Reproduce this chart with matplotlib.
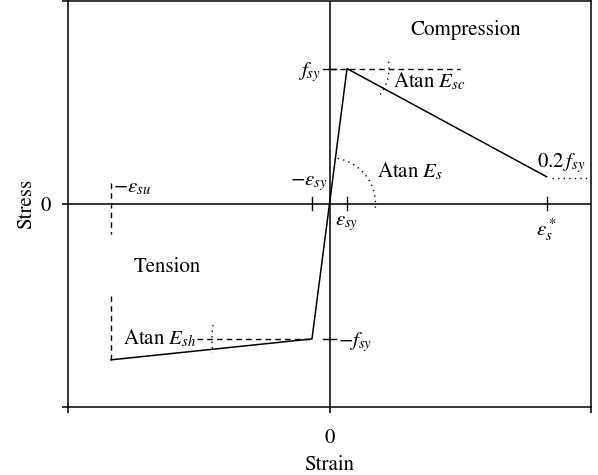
import numpy as np
import matplotlib
matplotlib.use("Agg")
import matplotlib.pyplot as plt

plt.rcParams['font.family'] = ['STIXGeneral', 'DejaVu Serif']
plt.rcParams['mathtext.fontset'] = 'stix'

# ---- data (normalised strain / stress) ----
eps_sy = 0.067
eps_su = 0.836
eps_star = 0.83
f_sy = 0.665
f_su_t = -0.768          # stress at -eps_su
f_res = 0.133            # 0.2 f_sy
curve_x = [-eps_su, -eps_sy, eps_sy, eps_star]
curve_y = [f_su_t, -f_sy, f_sy, f_res]

W, H = 598, 475
fig = plt.figure(figsize=(W / 100, H / 100), dpi=100)
ax = fig.add_axes([68 / W, (475 - 407) / H, (591 - 68) / W, 406.5 / H])
ax.set_xlim(-1, 1)
ax.set_ylim(-1, 1)

# pixel per data unit
px_x = (591 - 68) / 2.0
px_y = 406.5 / 2.0

LW = 1.1
fs = 15
for s in ax.spines.values():
    s.set_linewidth(LW)
ax.set_xticks([-1, 0, 1])
ax.set_xticklabels(['', '0', ''])
ax.set_yticks([-1, 0, 1])
ax.set_yticklabels(['', '0', ''])
ax.tick_params(direction='out', length=4.5, width=LW, labelsize=fs, pad=11)
ax.tick_params(axis='y', pad=8)
ax.set_xlabel('Strain', fontsize=fs, labelpad=5)
ax.set_ylabel('Stress', fontsize=fs, labelpad=3)

# axes through origin
ax.axhline(0, color='black', lw=LW)
ax.axvline(0, color='black', lw=LW)

# main curve
ax.plot(curve_x, curve_y, color='black', lw=1.1, solid_joinstyle='miter')

# small ticks on inner axes
ty = 6.5 / px_y
tx = 6.5 / px_x
for xv in [-eps_sy, eps_sy, eps_star]:
    ax.plot([xv, xv], [-ty, ty], color='black', lw=1.0)
for yv in [f_sy, -f_sy]:
    ax.plot([-tx, tx], [yv, yv], color='black', lw=1.0)

dash = (0, (4, 3))
dot = (0, (1, 3))
# dashed guides
ax.plot([0, 0.5], [f_sy, f_sy], color='black', lw=1.0, linestyle=dash)
ax.plot([-0.506, -eps_sy], [-f_sy, -f_sy], color='black', lw=1.0, linestyle=dash)
ax.plot([-eps_su, -eps_su], [0.103, -0.148], color='black', lw=1.0, linestyle=dash)
ax.plot([-eps_su, -eps_su], [-0.453, f_su_t], color='black', lw=1.0, linestyle=dash)
# dotted residual
ax.plot([0.85, 0.985], [0.125, 0.125], color='black', lw=1.0, linestyle=dot)


def arc(cx, cy, r, a0, a1):
    t = np.radians(np.linspace(a0, a1, 60))
    ax.plot(cx + r * np.cos(t) / px_x, cy + r * np.sin(t) / px_y,
            color='black', lw=1.0, linestyle=dot)


arc(0, 0, 46, -5, 82)
arc(eps_sy, f_sy, 42, -38, 14)
arc(-eps_sy, -f_sy, 100, 172, 188)

ax.text(0.519, 0.828, 'Compression', fontsize=fs, ha='center', va='baseline')
ax.text(-0.62, -0.337, 'Tension', fontsize=fs, ha='center', va='baseline')
ax.text(-0.79, -0.69, 'Atan $E_{sh}$', fontsize=fs, ha='left', va='baseline')
ax.text(0.182, 0.131, 'Atan $E_s$', fontsize=fs, ha='left', va='baseline')
ax.text(0.244, 0.572, 'Atan $E_{sc}$', fontsize=fs, ha='left', va='baseline')
ax.text(0.794, 0.18, '$0.2\\,f_{sy}$', fontsize=fs, ha='left', va='baseline')
ax.text(-0.033, 0.625, '$f_{sy}$', fontsize=fs, ha='right', va='baseline')
ax.text(0.033, -0.703, '$-f_{sy}$', fontsize=fs, ha='left', va='baseline')
ax.text(-0.008, 0.09, '$-\\varepsilon_{sy}$', fontsize=fs, ha='right', va='baseline')
ax.text(0.022, -0.108, '$\\varepsilon_{sy}$', fontsize=fs, ha='left', va='baseline')
ax.text(-0.828, 0.056, '$-\\varepsilon_{su}$', fontsize=fs, ha='left', va='baseline')
ax.text(eps_star, -0.155, '$\\varepsilon_s^*$', fontsize=fs, ha='center', va='baseline')

fig.savefig('out.png', dpi=100)
